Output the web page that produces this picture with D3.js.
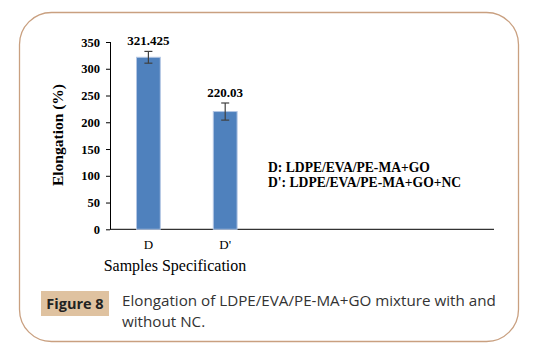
<!DOCTYPE html>
<html><head><meta charset="utf-8">
<script src="https://cdn.jsdelivr.net/npm/d3@7"></script>
<style>body{margin:0;background:#fff;} svg{display:block;}</style>
</head><body>
<script>
const categories = ["D", "D'"];
const slots = 5;
const values = [321.425, 220.03];
const errors = [11, 16];
const valueLabels = ["321.425", "220.03"];
const yTicks = [0, 50, 100, 150, 200, 250, 300, 350];
const legendLines = ["D: LDPE/EVA/PE-MA+GO", "D': LDPE/EVA/PE-MA+GO+NC"];
const yTitle = "Elongation (%)";
const xTitle = "Samples Specification";
const figLabel = "Figure 8";
const captionLines = ["Elongation of LDPE/EVA/PE-MA+GO mixture with and", "without NC."];

const W = 539, H = 350;
const svg = d3.select("body").append("svg").attr("width", W).attr("height", H);

// frame
svg.append("rect").attr("x", 19.5).attr("y", 12.5).attr("width", 499).attr("height", 329)
  .attr("rx", 32).attr("ry", 32).attr("fill", "none").attr("stroke", "#c9a080").attr("stroke-width", 1.3);

const x = d3.scaleBand().domain(d3.range(slots)).range([110, 494]).paddingInner(0.69).paddingOuter(0.345);
const y = d3.scaleLinear().domain([0, 350]).range([229.3, 42]);

const serif = "'Liberation Serif', 'Times New Roman', serif";

// y axis
const yAxis = svg.append("g").attr("transform", "translate(110,0)")
  .call(d3.axisLeft(y).tickValues(yTicks).tickSize(4).tickPadding(6));
yAxis.selectAll("path,line").attr("stroke", "#000").attr("stroke-width", 1);
yAxis.select(".domain").attr("d", `M0.5,${y(350)}V${y(0)}`);
yAxis.selectAll("text").attr("font-family", serif).attr("font-weight", "bold").attr("font-size", 12.5).attr("fill", "#000");

// x axis line
svg.append("line").attr("x1", 110).attr("x2", 494).attr("y1", y(0)).attr("y2", y(0))
  .attr("stroke", "#000").attr("stroke-width", 1);

// bars
svg.selectAll("rect.bar").data(values).enter().append("rect").attr("class", "bar")
  .attr("x", (d, i) => x(i)).attr("width", x.bandwidth())
  .attr("y", d => y(d)).attr("height", d => y(0) - y(d))
  .attr("fill", "#4f81bd").attr("stroke", "#b3c6e4").attr("stroke-width", 1);

// error bars
const eb = svg.selectAll("g.err").data(values).enter().append("g").attr("class", "err");
eb.append("line").attr("x1", (d, i) => x(i) + x.bandwidth() / 2).attr("x2", (d, i) => x(i) + x.bandwidth() / 2)
  .attr("y1", (d, i) => y(d + errors[i])).attr("y2", (d, i) => y(d - errors[i]));
eb.append("line").attr("x1", (d, i) => x(i) + x.bandwidth() / 2 - 4).attr("x2", (d, i) => x(i) + x.bandwidth() / 2 + 4)
  .attr("y1", (d, i) => y(d + errors[i])).attr("y2", (d, i) => y(d + errors[i]));
eb.append("line").attr("x1", (d, i) => x(i) + x.bandwidth() / 2 - 4).attr("x2", (d, i) => x(i) + x.bandwidth() / 2 + 4)
  .attr("y1", (d, i) => y(d - errors[i])).attr("y2", (d, i) => y(d - errors[i]));
eb.selectAll("line").attr("stroke", "#404040").attr("stroke-width", 1.2);

// value labels
svg.selectAll("text.val").data(values).enter().append("text").attr("class", "val")
  .attr("x", (d, i) => x(i) + x.bandwidth() / 2).attr("y", (d, i) => y(d + errors[i]) - 6)
  .attr("text-anchor", "middle").attr("font-family", serif).attr("font-weight", "bold").attr("font-size", 13)
  .text((d, i) => valueLabels[i]);

// x tick labels
svg.selectAll("text.cat").data(categories).enter().append("text").attr("class", "cat")
  .attr("x", (d, i) => x(i) + x.bandwidth() / 2).attr("y", 249)
  .attr("text-anchor", "middle").attr("font-family", serif).attr("font-size", 13).text(d => d);

// x title
svg.append("text").attr("x", 175).attr("y", 271).attr("text-anchor", "middle")
  .attr("font-family", serif).attr("font-size", 16).text(xTitle);

// y title
svg.append("text").attr("transform", "translate(63,135) rotate(-90)").attr("text-anchor", "middle")
  .attr("font-family", serif).attr("font-weight", "bold").attr("font-size", 15.5).text(yTitle);

// legend
svg.selectAll("text.leg").data(legendLines).enter().append("text").attr("class", "leg")
  .attr("x", 268).attr("y", (d, i) => 172 + i * 15)
  .attr("font-family", serif).attr("font-weight", "bold").attr("font-size", 13.6).text(d => d);

// figure label
svg.append("rect").attr("x", 41).attr("y", 291).attr("width", 68).attr("height", 25).attr("fill", "#dfc2a0");
svg.append("text").attr("x", 75).attr("y", 309).attr("text-anchor", "middle")
  .attr("font-family", "'Open Sans', sans-serif").attr("font-weight", "bold").attr("font-size", 14.5)
  .attr("fill", "#222").text(figLabel);

// caption
svg.selectAll("text.cap").data(captionLines).enter().append("text").attr("class", "cap")
  .attr("x", 122).attr("y", (d, i) => 306 + i * 21)
  .attr("font-family", "'Open Sans', sans-serif").attr("font-size", 15.2).attr("fill", "#333").text(d => d);
</script>
</body></html>
